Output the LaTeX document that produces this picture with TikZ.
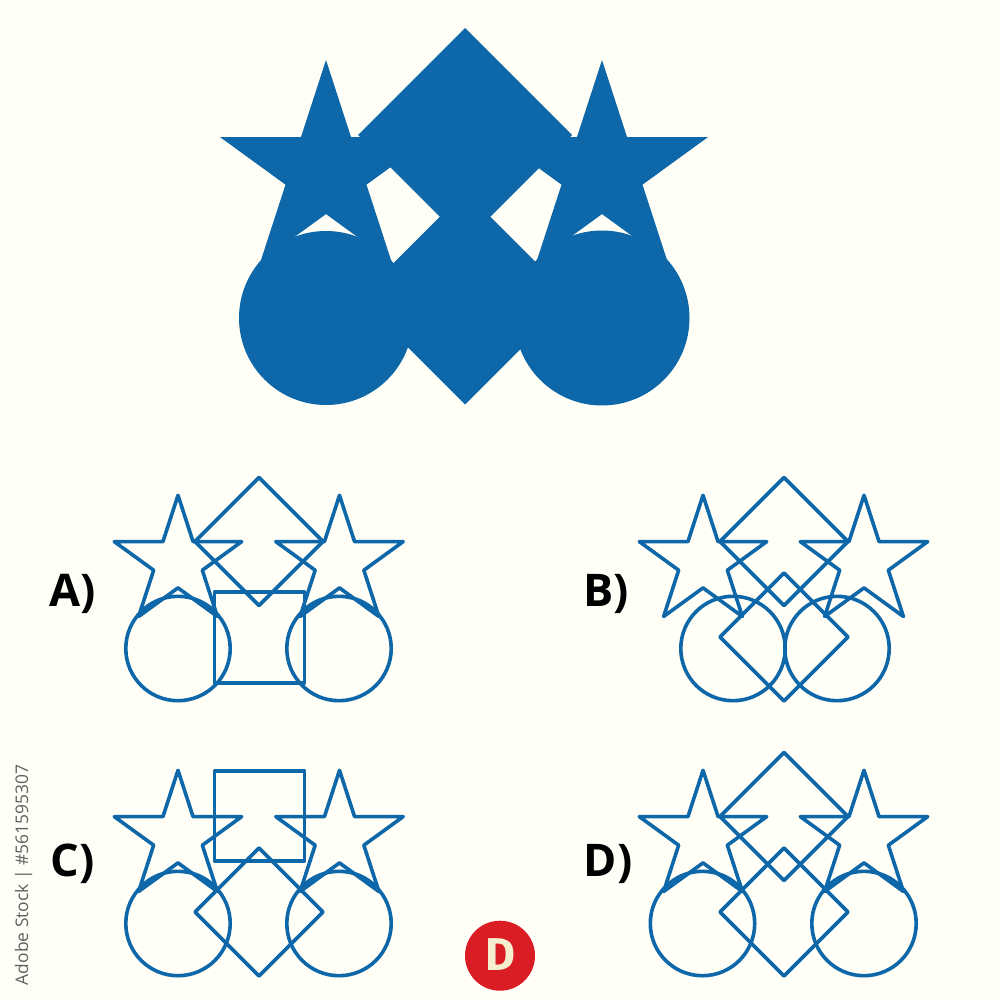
\documentclass[tikz,border=0pt]{standalone}
\usepackage{fontspec}
\setmainfont{Open Sans}
\newfontfamily\badgefont{Fira Sans}
\definecolor{paper}{HTML}{FFFFF8}
\definecolor{ink}{HTML}{0D67A8}
\definecolor{badge}{HTML}{DA1C24}
\definecolor{badgetext}{HTML}{F3EFCF}
\definecolor{sidegray}{HTML}{606060}
\newcommand{\StarShape}[4]{% style, cx, cy, R
  \path[#1]
  ({#2},{#3-#4})
  -- ({#2+.382*#4*sin(36)},{#3-.382*#4*cos(36)})
  -- ({#2+#4*sin(72)},{#3-#4*cos(72)})
  -- ({#2+.382*#4*sin(108)},{#3-.382*#4*cos(108)})
  -- ({#2+#4*sin(144)},{#3-#4*cos(144)})
  -- ({#2},{#3+.382*#4})
  -- ({#2-#4*sin(144)},{#3-#4*cos(144)})
  -- ({#2-.382*#4*sin(108)},{#3-.382*#4*cos(108)})
  -- ({#2-#4*sin(72)},{#3-#4*cos(72)})
  -- ({#2-.382*#4*sin(36)},{#3-.382*#4*cos(36)})
  -- cycle;}
\newcommand{\DiamondShape}[4]{% style, cx, cy, half diagonal
  \path[#1] ({#2},{#3-#4}) -- ({#2+#4},{#3}) -- ({#2},{#3+#4}) -- ({#2-#4},{#3}) -- cycle;}
\newcommand{\CircleShape}[4]{\path[#1] (#2,#3) circle[radius=#4];}
\tikzset{
  solidshape/.style={fill=ink},
  outline/.style={draw=ink,line width=3.6pt,line join=round},
  optlabel/.style={font=\fontsize{45}{45}\selectfont\bfseries,text=black,inner sep=0pt,anchor=base}
}
\begin{document}
\begin{tikzpicture}[x=1pt,y=-1pt]
\path[fill=paper] (0,0) rectangle (1000,1000);
\useasboundingbox (0,0) rectangle (1000,1000);
% question figure
\StarShape{solidshape}{326}{171.5}{111.5}
\StarShape{solidshape}{602}{171.5}{111.5}
\CircleShape{solidshape}{326}{318}{87}
\CircleShape{solidshape}{602}{318}{87.5}
\DiamondShape{solidshape}{465}{135}{107}
\DiamondShape{solidshape}{465}{298}{106.5}
% option A
\StarShape{outline}{178}{562.3}{67}
\StarShape{outline}{339.5}{562.3}{67}
\CircleShape{outline}{178}{648.5}{52.2}
\CircleShape{outline}{339}{648.5}{52.2}
\DiamondShape{outline}{259}{541.5}{64}
\draw[outline] (214.5,592) rectangle (304.5,683);
% option B
\StarShape{outline}{703}{562.3}{67}
\StarShape{outline}{864}{562.3}{67}
\CircleShape{outline}{733}{648.5}{52.2}
\CircleShape{outline}{837}{648.5}{52.2}
\DiamondShape{outline}{784}{541.5}{64}
\DiamondShape{outline}{784}{637}{64}
% option C
\StarShape{outline}{178}{837.3}{67}
\StarShape{outline}{339.5}{837.3}{67}
\CircleShape{outline}{178}{923.5}{52.2}
\CircleShape{outline}{339}{923.5}{52.2}
\draw[outline] (214.5,771) rectangle (304.5,861);
\DiamondShape{outline}{259}{912}{64}
% option D
\StarShape{outline}{703}{837.3}{67}
\StarShape{outline}{864}{837.3}{67}
\CircleShape{outline}{702.5}{923.5}{52.2}
\CircleShape{outline}{864}{923.5}{52.2}
\DiamondShape{outline}{784}{816.5}{64}
\DiamondShape{outline}{784}{912}{64}
% labels
\node[optlabel] (la) at (72.5,606) {A)};
\node[optlabel] (lb) at (606,606) {B)};
\node[optlabel] (lc) at (72.5,876) {C)};
\node[optlabel] (ld) at (608,876) {D)};
% badge
\node[circle,fill=badge,minimum size=70pt,inner sep=0pt] (badge) at (500,955.7) {};
\node[font=\badgefont\fontsize{46}{46}\selectfont\bfseries,text=badgetext,inner sep=0pt,anchor=base] (badgeD) at (500.5,970.5) {D};
% side line
\node[rotate=90,font=\fontsize{17.4}{18}\selectfont,text=sidegray,inner sep=0pt] (side) at (23.5,875) {Adobe Stock | \#561595307};
\end{tikzpicture}
\end{document}
